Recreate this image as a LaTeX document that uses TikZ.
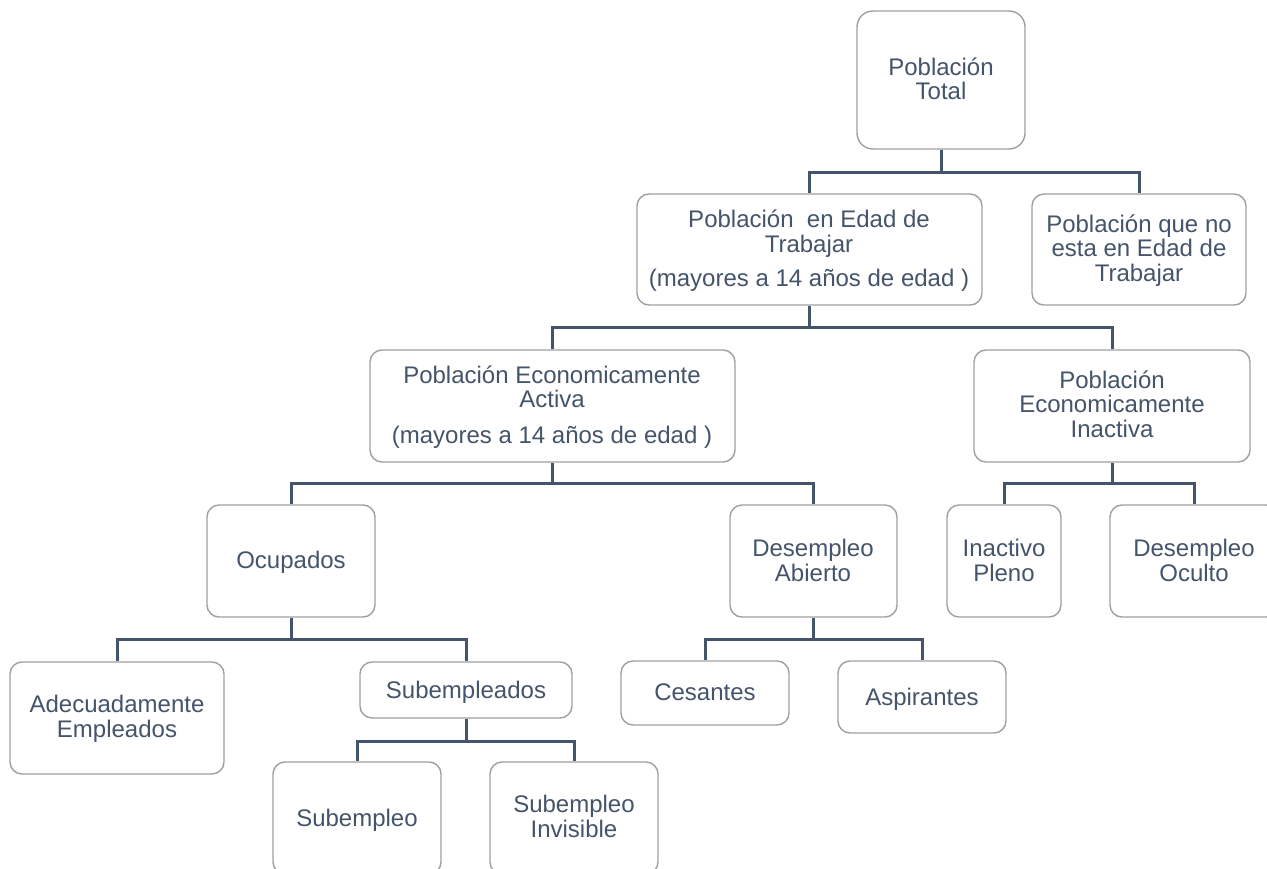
\documentclass[tikz,border=0pt]{standalone}
\usepackage{fontspec}
\setmainfont{Liberation Sans}
\definecolor{txtblue}{HTML}{44546A}
\definecolor{lineblue}{HTML}{44546A}
\definecolor{boxgray}{HTML}{A0A0A0}
\begin{document}
\begin{tikzpicture}[x=1pt,y=-1pt,
  box/.style={draw=boxgray, line width=1.4pt, rounded corners=12pt, fill=white, inner sep=0pt},
  txt/.style={anchor=base, align=center, inner sep=0pt, text=txtblue,
    font=\fontsize{24}{24.5}\selectfont},
  conn/.style={draw=lineblue, line width=3pt}]
\useasboundingbox (0,0) rectangle (1267,869);
\clip (0,0) rectangle (1267,869);
\fill[white] (0,0) rectangle (1267,869);

% boxes
\node[box, rounded corners=16pt, minimum width=168pt, minimum height=138pt] (total) at (941,80) {};
\node[box, minimum width=345pt, minimum height=111pt] (pet) at (809.5,249.5) {};
\node[box, minimum width=214pt, minimum height=111pt] (pnet) at (1139,249.5) {};
\node[box, minimum width=365pt, minimum height=112pt] (pea) at (552.5,406) {};
\node[box, minimum width=276pt, minimum height=112pt] (pei) at (1112,406) {};
\node[box, minimum width=168pt, minimum height=112pt] (ocup) at (291,561) {};
\node[box, minimum width=167pt, minimum height=112pt] (dabi) at (813.5,561) {};
\node[box, minimum width=114pt, minimum height=112pt] (inac) at (1004,561) {};
\node[box, minimum width=168pt, minimum height=112pt] (docu) at (1194,561) {};
\node[box, minimum width=214pt, minimum height=112pt] (adec) at (117,718) {};
\node[box, minimum width=212pt, minimum height=56pt] (subs) at (466,690) {};
\node[box, minimum width=168pt, minimum height=64pt] (ces) at (705,693) {};
\node[box, minimum width=168pt, minimum height=72pt] (asp) at (922,697) {};
\node[box, minimum width=168pt, minimum height=112pt] (sub1) at (357,818) {};
\node[box, minimum width=168pt, minimum height=112pt] (sub2) at (574,818) {};

% connectors
\draw[conn] (total.south) -- ++(0,23) -| (pet.north);
\draw[conn] (total.south) -- ++(0,23) -| (pnet.north);
\draw[conn] (pet.south) -- ++(0,22) -| (pea.north);
\draw[conn] (pet.south) -- ++(0,22) -| (pei.north);
\draw[conn] (pea.south) -- ++(0,21) -| (ocup.north);
\draw[conn] (pea.south) -- ++(0,21) -| (dabi.north);
\draw[conn] (pei.south) -- ++(0,21) -| (inac.north);
\draw[conn] (pei.south) -- ++(0,21) -| (docu.north);
\draw[conn] (ocup.south) -- ++(0,22) -| (adec.north);
\draw[conn] (ocup.south) -- ++(0,22) -| (subs.north);
\draw[conn] (dabi.south) -- ++(0,22) -| (ces.north);
\draw[conn] (dabi.south) -- ++(0,22) -| (asp.north);
\draw[conn] (subs.south) -- ++(0,23) -| (sub1.north);
\draw[conn] (subs.south) -- ++(0,23) -| (sub2.north);

% texts (anchored at the baseline of the last line)
\node[txt] (total-t) at (941,100) {Población\\Total};
\node[txt] (pet-t) at (809,287) {Población\ \ en Edad de\\Trabajar\\[10pt](mayores a 14 años de edad )};
\node[txt] (pnet-t) at (1139,281) {Población que no\\esta en Edad de\\Trabajar};
\node[txt] (pea-t) at (552,443) {Población Economicamente\\Activa\\[11pt](mayores a 14 años de edad )};
\node[txt] (pei-t) at (1112,437) {Población\\Economicamente\\Inactiva};
\node[txt] (ocup-t) at (291,568) {Ocupados};
\node[txt] (dabi-t) at (813,581) {Desempleo\\Abierto};
\node[txt] (inac-t) at (1004,581) {Inactivo\\Pleno};
\node[txt] (docu-t) at (1194,581) {Desempleo\\Oculto};
\node[txt] (adec-t) at (117,737) {Adecuadamente\\Empleados};
\node[txt] (subs-t) at (466,698) {Subempleados};
\node[txt] (ces-t) at (705,700) {Cesantes};
\node[txt] (asp-t) at (922,705) {Aspirantes};
\node[txt] (sub1-t) at (357,826) {Subempleo};
\node[txt] (sub2-t) at (574,837) {Subempleo\\Invisible};
\end{tikzpicture}
\end{document}
